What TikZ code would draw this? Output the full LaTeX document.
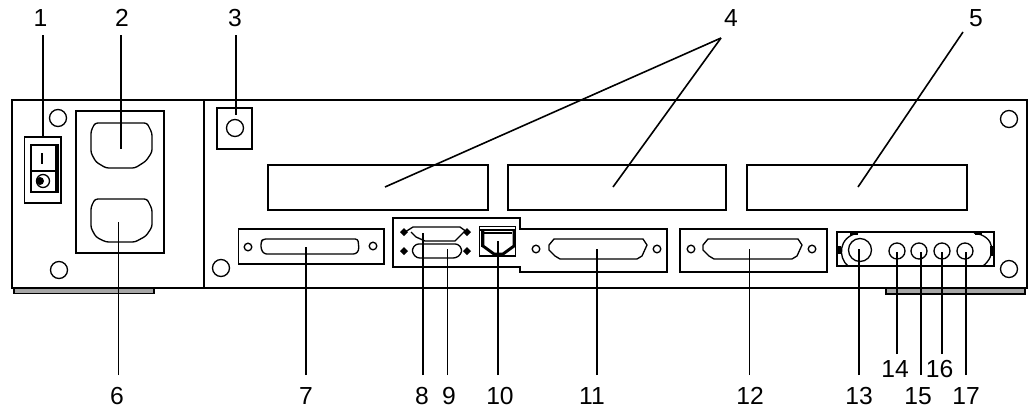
\documentclass[tikz,border=0pt]{standalone}
\usepackage{fontspec}
\setmainfont{Liberation Sans}
\tikzset{
  ln/.style={line width=1.15pt,black},
  lead/.style={line width=1.2pt,black},
  num/.style={font=\fontsize{18.5}{19}\selectfont,inner sep=0pt,text=black,anchor=base},
  thin2/.style={line width=1pt,black},
  sock/.style={thin2,rounded corners=2pt,line join=round},
}
\newcommand{\dsub}[4]{% left x, right x, top y, bottom y
  \draw[thin2,line join=round] (#1+2,#3+6) -- (#1+2,#3+11) -- (#1+8,#4-3) -- (#1+13,#4) -- (#2-13,#4) -- (#2-8,#4-3) -- (#2-3,#3+6) -- (#2-7,#3) -- (#1+7,#3) -- cycle;
}
\newcommand{\screw}[2]{\draw[thin2] (#1,#2) circle[radius=3.8];}
\newcommand{\diam}[2]{\fill (#1-4,#2) -- (#1,#2-4) -- (#1+4,#2) -- (#1,#2+4) -- cycle;}
\begin{document}
\begin{tikzpicture}[x=0.75pt,y=-0.75pt]
\useasboundingbox (0,0) rectangle (1029,408);
\fill[white] (0,0) rectangle (1029,408);
% chassis
\draw[ln,fill=gray!70] (14,288) rectangle (154,293.5);
\draw[ln,fill=gray!70] (886,288) rectangle (1025,294);
\draw[ln] (12,288) -- (12,100) -- (1027,100) -- (1027,288) -- cycle;
\draw[ln] (204,100) -- (204,288);
% screws
\draw[thin2] (58,118) circle[radius=8.5];
\draw[thin2] (59,270) circle[radius=8.5];
\draw[thin2] (221,268) circle[radius=8.5];
\draw[thin2] (1009,119) circle[radius=8.5];
\draw[thin2] (1009,269) circle[radius=8.5];
% switch
\draw[ln] (24.5,137) rectangle (61,203);
\draw[line width=1.3pt] (31,145) rectangle (58,192);
\draw[line width=2.6pt] (57,145) -- (57,192);
\draw[thin2] (31,171) -- (58,171);
\draw[line width=1.3pt] (42,153) -- (42,164);
\draw[thin2] (43,181) circle[radius=6.5];
\fill (40,181) circle[radius=4];
% power
\draw[ln] (76,111) rectangle (164,253);
\draw[sock] (95,123) -- (147,123) -- (152,133) -- (152,152) -- (146,161) -- (135,168) -- (106,168) -- (96,162) -- (91,153) -- (91,131) -- cycle;
\draw[sock] (95,199) -- (147,199) -- (152,209) -- (152,227) -- (146,236) -- (135,242) -- (106,242) -- (96,237) -- (91,228) -- (91,207) -- cycle;
% box 3
\draw[ln] (217,108) rectangle (252,149);
\draw[thin2] (235,128) circle[radius=8.5];
% slots
\draw[ln] (268,165) rectangle (488,210);
\draw[ln] (508,165) rectangle (726,210);
\draw[ln] (747,165) rectangle (967,210);
% port 7
\draw[ln] (238.5,229) rectangle (384,264);
\draw[sock] (263,239) -- (358,239) -- (359,250) -- (356,254) -- (264,254) -- (261,249) -- (261,242) -- cycle;
\screw{248}{247}\screw{373}{246}
% middle
\draw[ln] (393,218) -- (520,218) -- (520,229) -- (667,229) -- (667,272) -- (520,272) -- (520,267) -- (393,267) -- cycle;
\draw[thin2,line join=round] (405,232) -- (413,227) -- (460,227) -- (467,232);
\draw[thin2,line join=round] (411,232) -- (416,237) -- (425,241) -- (455,241) -- (460,236) -- (464,232);
\draw[sock] (416,244) -- (458,244) -- (462,249) -- (461,254) -- (456,258) -- (417,258) -- (413,254) -- (412,249) -- cycle;
\diam{404}{232}\diam{467}{232}
\diam{404}{251}\diam{467}{251}
% RJ45
\draw[line width=1.3pt] (479.5,226.5) rectangle (515.5,256);
\draw[thin2] (480,230) -- (515,230);
\draw[line width=2.2pt] (483,231) -- (483,246) -- (494,254) -- (503,254) -- (514,246) -- (514,231);
\fill (481,231) rectangle (484,247);
\draw[line width=1.3pt] (484,233) -- (512,233);
% port 11
\dsub{547}{650}{239}{259}
\screw{536}{249}\screw{657}{249}
% port 12
\draw[ln] (680,229) rectangle (827,272);
\dsub{701}{805}{239}{259}
\screw{691}{249}\screw{812}{249}
% port 13
\draw[ln] (837,232) rectangle (994,266);
\draw[thin2] (860,250) circle[radius=11.5];
\draw[thin2] (858,233) .. controls (838,237) and (838,258) .. (848,266);
\fill (850,231.5) rectangle (858,235);
\fill (837.5,246) rectangle (841,254);
\draw[thin2] (974,233) .. controls (996,236) and (996,256) .. (983,266);
\fill (975,231.5) rectangle (982,235);
\fill (990,246) rectangle (994,256);
\draw[thin2] (897,251) circle[radius=8];
\draw[thin2] (919,251) circle[radius=8];
\draw[thin2] (942,251) circle[radius=8];
\draw[thin2] (965,251) circle[radius=8];
% labels
\node[num] (l1) at (40.5,26.5) {1};
\node[num] (l2) at (122,26.5) {2};
\node[num] (l3) at (235,26.5) {3};
\node[num] (l4) at (731,26.5) {4};
\node[num] (l5) at (976,26.5) {5};
\node[num] (l6) at (117,404) {6};
\node[num] (l7) at (306,404) {7};
\node[num] (l8) at (422,404) {8};
\node[num] (l9) at (449,404) {9};
\node[num] (l10) at (500,404) {10};
\node[num] (l11) at (592,404) {11};
\node[num] (l12) at (750,404) {12};
\node[num] (l13) at (859,404) {13};
\node[num] (l14) at (895,377) {14};
\node[num] (l15) at (918,404) {15};
\node[num] (l16) at (939.5,377) {16};
\node[num] (l17) at (966,404) {17};
% targets
\coordinate (top) at (0,35);
\coordinate (c1) at (43,138);
\coordinate (c2) at (121,149);
\coordinate (c3) at (236,115);
\coordinate (t4) at (721,38);
\coordinate (t5) at (963,32);
\coordinate (c4a) at (385,187);
\coordinate (c4b) at (613,187);
\coordinate (c5) at (858,187);
\coordinate (c6) at (118.5,222);
\coordinate (c7) at (306,247);
\coordinate (c8) at (423,233);
\coordinate (c9) at (447.5,249);
\coordinate (c10) at (498,241);
\coordinate (c11) at (597,249);
\coordinate (c12) at (749.5,249);
\coordinate (c13) at (859,249);
\coordinate (c14) at (897,252);
\coordinate (c15) at (921,252);
\coordinate (c16) at (942,252);
\coordinate (c17) at (966,252);
\foreach \n in {1,2,3}{\draw[lead] (c\n |- top) -- (c\n);}
\draw[lead] (t4) -- (c4a);
\draw[lead] (t4) -- (c4b);
\draw[lead] (t5) -- (c5);
\coordinate (b1) at (0,375);
\coordinate (b2) at (0,354);
\foreach \n in {6,7,8,9,10,11,12,13,15,17}{\draw[lead] (c\n |- b1) -- (c\n);}
\foreach \n in {14,16}{\draw[lead] (c\n |- b2) -- (c\n);}
\end{tikzpicture}
\end{document}
